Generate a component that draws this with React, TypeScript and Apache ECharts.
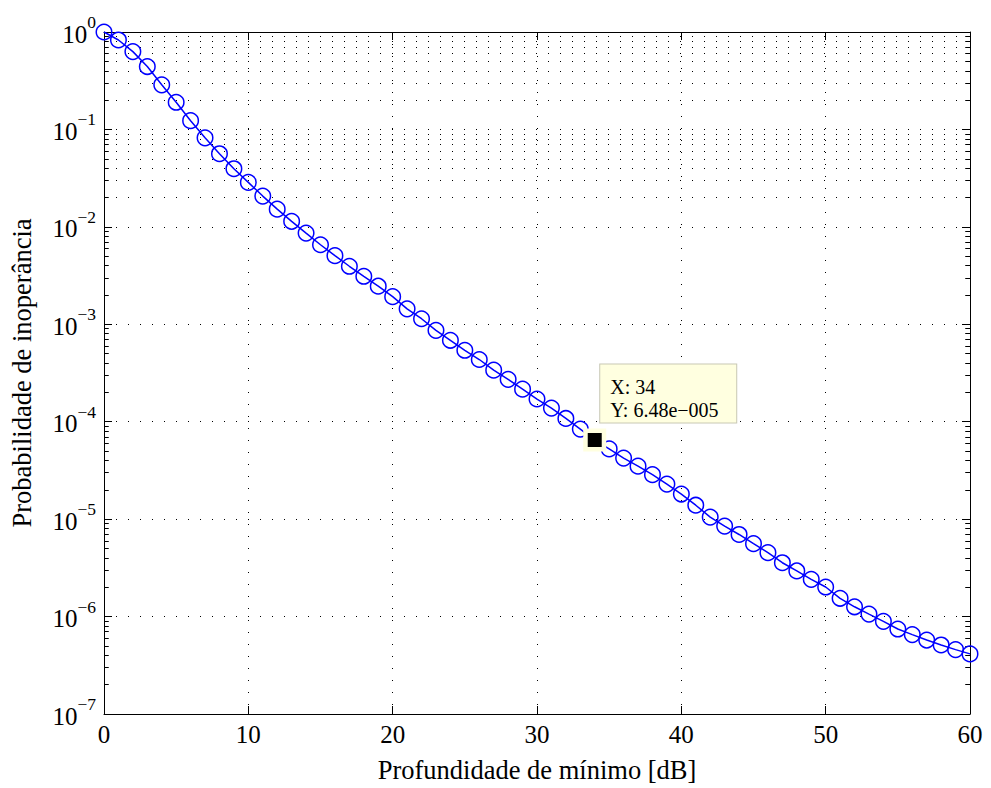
import React, { useEffect, useRef } from "react";
import * as echarts from "echarts";

// ---- data ----
const depthDb: number[] = [
  0, 1, 2, 3, 4, 5, 6, 7, 8, 9, 10, 11, 12, 13, 14, 15, 16, 17, 18, 19, 20,
  21, 22, 23, 24, 25, 26, 27, 28, 29, 30, 31, 32, 33, 34, 35, 36, 37, 38, 39, 40,
  41, 42, 43, 44, 45, 46, 47, 48, 49, 50, 51, 52, 53, 54, 55, 56, 57, 58, 59, 60,
];
const outageProb: number[] = [
  1.0, 0.828, 0.629, 0.442, 0.287, 0.19, 0.123, 0.082, 0.0563, 0.0395, 0.0286,
  0.0207, 0.0152, 0.0114, 0.00863, 0.00655, 0.00506, 0.00394, 0.00311, 0.00246, 0.00192,
  0.00144, 0.00114, 8.66e-4, 6.85e-4, 5.41e-4, 4.35e-4, 3.38e-4, 2.72e-4, 2.16e-4, 1.71e-4,
  1.38e-4, 1.08e-4, 8.4e-5, 6.48e-5, 5.26e-5, 4.23e-5, 3.5e-5, 2.86e-5, 2.29e-5, 1.81e-5,
  1.39e-5, 1.05e-5, 8.48e-6, 6.96e-6, 5.6e-6, 4.53e-6, 3.57e-6, 2.94e-6, 2.41e-6, 2.01e-6,
  1.54e-6, 1.26e-6, 1.06e-6, 8.93e-7, 7.45e-7, 6.53e-7, 5.74e-7, 5.11e-7, 4.58e-7, 4.14e-7,
];
const xTicks: number[] = [0, 10, 20, 30, 40, 50, 60];
const yDecadeExponents: number[] = [-7, -6, -5, -4, -3, -2, -1, 0];
const minorMultipliers: number[] = [2, 3, 4, 5, 6, 7, 8, 9];
const tipIndex = 34;

const xTitle = "Profundidade de mínimo [dB]";
const yTitle = "Probabilidade de inoperância";

const FONT = "'Liberation Serif', 'Times New Roman', serif";

function matlabExp(v: number): string {
  const [m, e] = v.toExponential(2).split("e");
  const n = parseInt(e, 10);
  const sign = n < 0 ? "\u2212" : "+";
  const digits = String(Math.abs(n)).padStart(3, "0");
  return `${m}e${sign}${digits}`;
}

export default function App() {
  const ref = useRef<HTMLDivElement>(null);

  useEffect(() => {
    if (!ref.current) return;
    const chart = echarts.init(ref.current, undefined, { renderer: "svg" });

    const xMin = xTicks[0];
    const xMax = xTicks[xTicks.length - 1];
    const yMin = Math.pow(10, yDecadeExponents[0]);
    const yMax = Math.pow(10, yDecadeExponents[yDecadeExponents.length - 1]);

    const minorVals: number[] = [];
    yDecadeExponents.slice(0, -1).forEach((e) => {
      minorMultipliers.forEach((k) => minorVals.push(k * Math.pow(10, e)));
    });

    const dotted = { color: "#000", width: 1, type: [1, 11] as number[] };
    const tickLen = (xMax - xMin) * 0.0055;

    const markLineData: any[] = [];
    minorVals.forEach((v) => {
      markLineData.push({ yAxis: v, lineStyle: dotted });
      markLineData.push([
        { coord: [xMin, v], lineStyle: { color: "#000", width: 1, type: "solid" } },
        { coord: [xMin + tickLen, v] },
      ]);
      markLineData.push([
        { coord: [xMax - tickLen, v], lineStyle: { color: "#000", width: 1, type: "solid" } },
        { coord: [xMax, v] },
      ]);
    });

    const data = depthDb.map((x, i) => [x, outageProb[i]]);

    const option: any = {
      animation: false,
      backgroundColor: "#fff",
      textStyle: { fontFamily: FONT },
      grid: { left: 102, right: 21, top: 32, bottom: 71, containLabel: false },
      xAxis: [
        {
          type: "value",
          min: xMin,
          max: xMax,
          interval: 10,
          position: "bottom",
          name: xTitle,
          nameLocation: "middle",
          nameGap: 42,
          nameTextStyle: { fontFamily: FONT, fontSize: 26.5, color: "#000" },
          axisLine: { show: true, onZero: false, lineStyle: { color: "#000", width: 1 } },
          axisTick: { show: true, inside: true, length: 8, lineStyle: { color: "#000" } },
          axisLabel: { fontFamily: FONT, fontSize: 25, color: "#000", margin: 8 },
          splitLine: { show: true, lineStyle: dotted },
        },
        {
          type: "value",
          min: xMin,
          max: xMax,
          interval: 10,
          position: "top",
          axisLine: { show: true, onZero: false, lineStyle: { color: "#000", width: 1 } },
          axisTick: { show: true, inside: true, length: 8, lineStyle: { color: "#000" } },
          axisLabel: { show: false },
          splitLine: { show: false },
        },
      ],
      yAxis: [
        {
          type: "log",
          logBase: 10,
          min: yMin,
          max: yMax,
          splitNumber: 7,
          position: "left",
          name: yTitle,
          nameLocation: "middle",
          nameGap: 69,
          nameTextStyle: { fontFamily: FONT, fontSize: 26.5, color: "#000" },
          axisLine: { show: true, onZero: false, lineStyle: { color: "#000", width: 1 } },
          axisTick: { show: true, inside: true, length: 8, lineStyle: { color: "#000" } },
          axisLabel: {
            margin: 8,
            color: "#000",
            formatter: (v: number) => {
              const e = Math.round(Math.log10(v));
              const s = e === 0 ? "0" : "\u2212" + Math.abs(e);
              return `{b|10}{s|${s}}`;
            },
            rich: {
              b: {
                fontFamily: FONT,
                fontSize: 25,
                color: "#000",
                lineHeight: 25,
                padding: [4, 0, 0, 0],
                verticalAlign: "middle",
              },
              s: {
                fontFamily: FONT,
                fontSize: 17.5,
                color: "#000",
                lineHeight: 12,
                padding: [0, 0, 20, 0],
                verticalAlign: "middle",
              },
            },
          },
          splitLine: { show: true, lineStyle: dotted },
        },
        {
          type: "log",
          logBase: 10,
          min: yMin,
          max: yMax,
          splitNumber: 7,
          position: "right",
          axisLine: { show: true, onZero: false, lineStyle: { color: "#000", width: 1 } },
          axisTick: { show: true, inside: true, length: 8, lineStyle: { color: "#000" } },
          axisLabel: { show: false },
          splitLine: { show: false },
        },
      ],
      series: [
        {
          type: "line",
          xAxisIndex: 0,
          yAxisIndex: 0,
          data,
          symbol: "circle",
          symbolSize: 15.5,
          showAllSymbol: true,
          z: 5,
          lineStyle: { color: "#0000ff", width: 1.5 },
          itemStyle: { color: "rgba(0,0,0,0)", borderColor: "#0000ff", borderWidth: 1.5 },
          emphasis: { disabled: true },
          markLine: {
            silent: true,
            symbol: ["none", "none"],
            label: { show: false },
            emphasis: { disabled: true },
            z: 1,
            data: markLineData,
          },
        },
        {
          type: "scatter",
          xAxisIndex: 0,
          yAxisIndex: 0,
          z: 20,
          silent: true,
          symbol: "rect",
          symbolSize: 18.5,
          itemStyle: { color: "#000", borderColor: "#ffffe0", borderWidth: 4.5, opacity: 1 },
          emphasis: { disabled: true },
          data: [
            {
              value: [depthDb[tipIndex], outageProb[tipIndex]],
              label: {
                show: true,
                position: [17, -64],
                align: "left",
                verticalAlign: "top",
                formatter: `X: ${depthDb[tipIndex]}\nY: ${matlabExp(outageProb[tipIndex])}`,
                fontFamily: FONT,
                fontSize: 20,
                lineHeight: 23,
                width: 114,
                color: "#000",
                backgroundColor: "#ffffe0",
                borderColor: "#c8c8b4",
                borderWidth: 1,
                padding: [11, 12, 1, 10],
              },
            },
          ],
        },
      ],
    };

    chart.setOption(option);
    return () => chart.dispose();
  }, []);

  return (
    <div
      ref={ref}
      style={{ position: "fixed", left: 0, top: 0, width: 991, height: 788, background: "#fff" }}
    />
  );
}
